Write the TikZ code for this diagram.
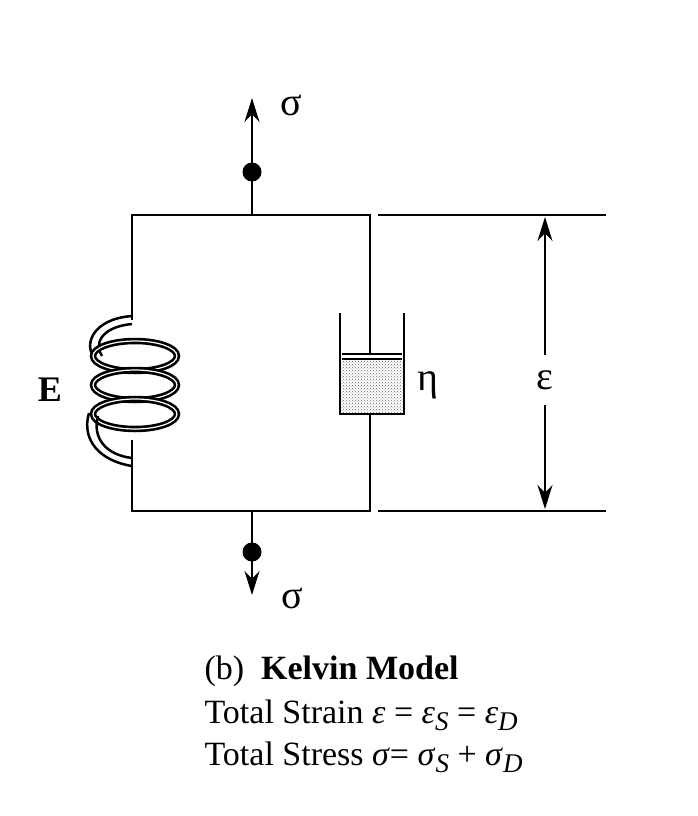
\documentclass[tikz,border=0pt]{standalone}
\usepackage{fontspec}
\setmainfont{Liberation Serif}
\usetikzlibrary{arrows.meta,patterns}
\newcommand{\sbx}[1]{\raisebox{-7pt}{\fontsize{27}{27}\selectfont\textit{#1}}}
\begin{document}
\begin{tikzpicture}[x=1pt,y=-1pt,
  ln/.style={line width=2.2pt},
  arr/.style={line width=2pt,-{Stealth[length=24pt,width=15pt]}},
  lbl/.style={font=\fontsize{34}{34}\selectfont}]
\useasboundingbox (0,0) rectangle (698,816);
\coordinate (tl) at (132,215); \coordinate (tr) at (370,215);
\coordinate (bl) at (132,511); \coordinate (br) at (370,511);
\coordinate (tm) at (252,215); \coordinate (bm) at (252,511);
% frame
\draw[ln] (132,320) -- (tl) -- (tr) -- (370,354);
\draw[ln] (132,440) -- (bl) -- (br) -- (370,414);
% spring
\draw[line width=2.5pt] (132,316) .. controls (92,319) and (84,345) .. (94,357);
\draw[line width=2.5pt] (132,324) .. controls (100,327) and (94,345) .. (102,356);
\foreach \yy in {356,385,414}{
  \draw[line width=6.5pt] (135,\yy) ellipse [x radius=42, y radius=15];
  \draw[line width=1.2pt,white] (135,\yy) ellipse [x radius=42, y radius=15];
}
\draw[line width=2.5pt] (89,413) .. controls (81,440) and (100,461) .. (132,466);
\draw[line width=2.5pt] (98,416) .. controls (92,438) and (106,455) .. (132,458);
% dashpot
\fill[pattern=crosshatch dots, pattern color=black!60] (340,358) rectangle (404,414);
\draw[ln] (340,313) -- (340,414) -- (404,414) -- (404,313);
\draw[line width=1.8pt] (342,354) -- (402,354);
\draw[line width=1.8pt] (342,359) -- (402,359);
% top/bottom loads
\coordinate (tt) at (252,98); \coordinate (bb) at (252,595);
\draw[arr] (tm) -- (tt);
\draw[arr] (bm) -- (bb);
\node[circle,fill,inner sep=0pt,minimum size=19pt] (d1) at (252,172) {};
\node[circle,fill,inner sep=0pt,minimum size=19pt] (d2) at (252,552) {};
\node[font=\fontsize{40}{40}\selectfont] (s1) at (291,105) {σ};
\node[font=\fontsize{40}{40}\selectfont] (s2) at (292,598) {σ};
\node[font=\fontsize{36}{36}\selectfont\bfseries] (E) at (50,390) {E};
\node[font=\fontsize{40}{40}\selectfont] (eta) at (428,385) {η};
% dimension
\draw[line width=1.5pt] (378,215) -- (606,215);
\draw[line width=1.5pt] (378,511) -- (606,511);
\node[font=\fontsize{40}{40}\selectfont] (eps) at (545,380) {ε};
\coordinate (a1) at (545,217); \coordinate (a2) at (545,509);
\draw[arr] (545,355) -- (a1);
\draw[arr] (545,405) -- (a2);
% text
\node[lbl,anchor=west] (t1) at (201,671) {(b)\ \ \textbf{Kelvin Model}};
\node[lbl,anchor=west] (t2) at (201,715) {Total Strain \textit{ε} = \textit{ε}\sbx{S} = \textit{ε}\sbx{D}};
\node[lbl,anchor=west] (t3) at (201,757) {Total Stress \textit{σ}= \textit{σ}\sbx{S} + \textit{σ}\sbx{D}};
\end{tikzpicture}
\end{document}
